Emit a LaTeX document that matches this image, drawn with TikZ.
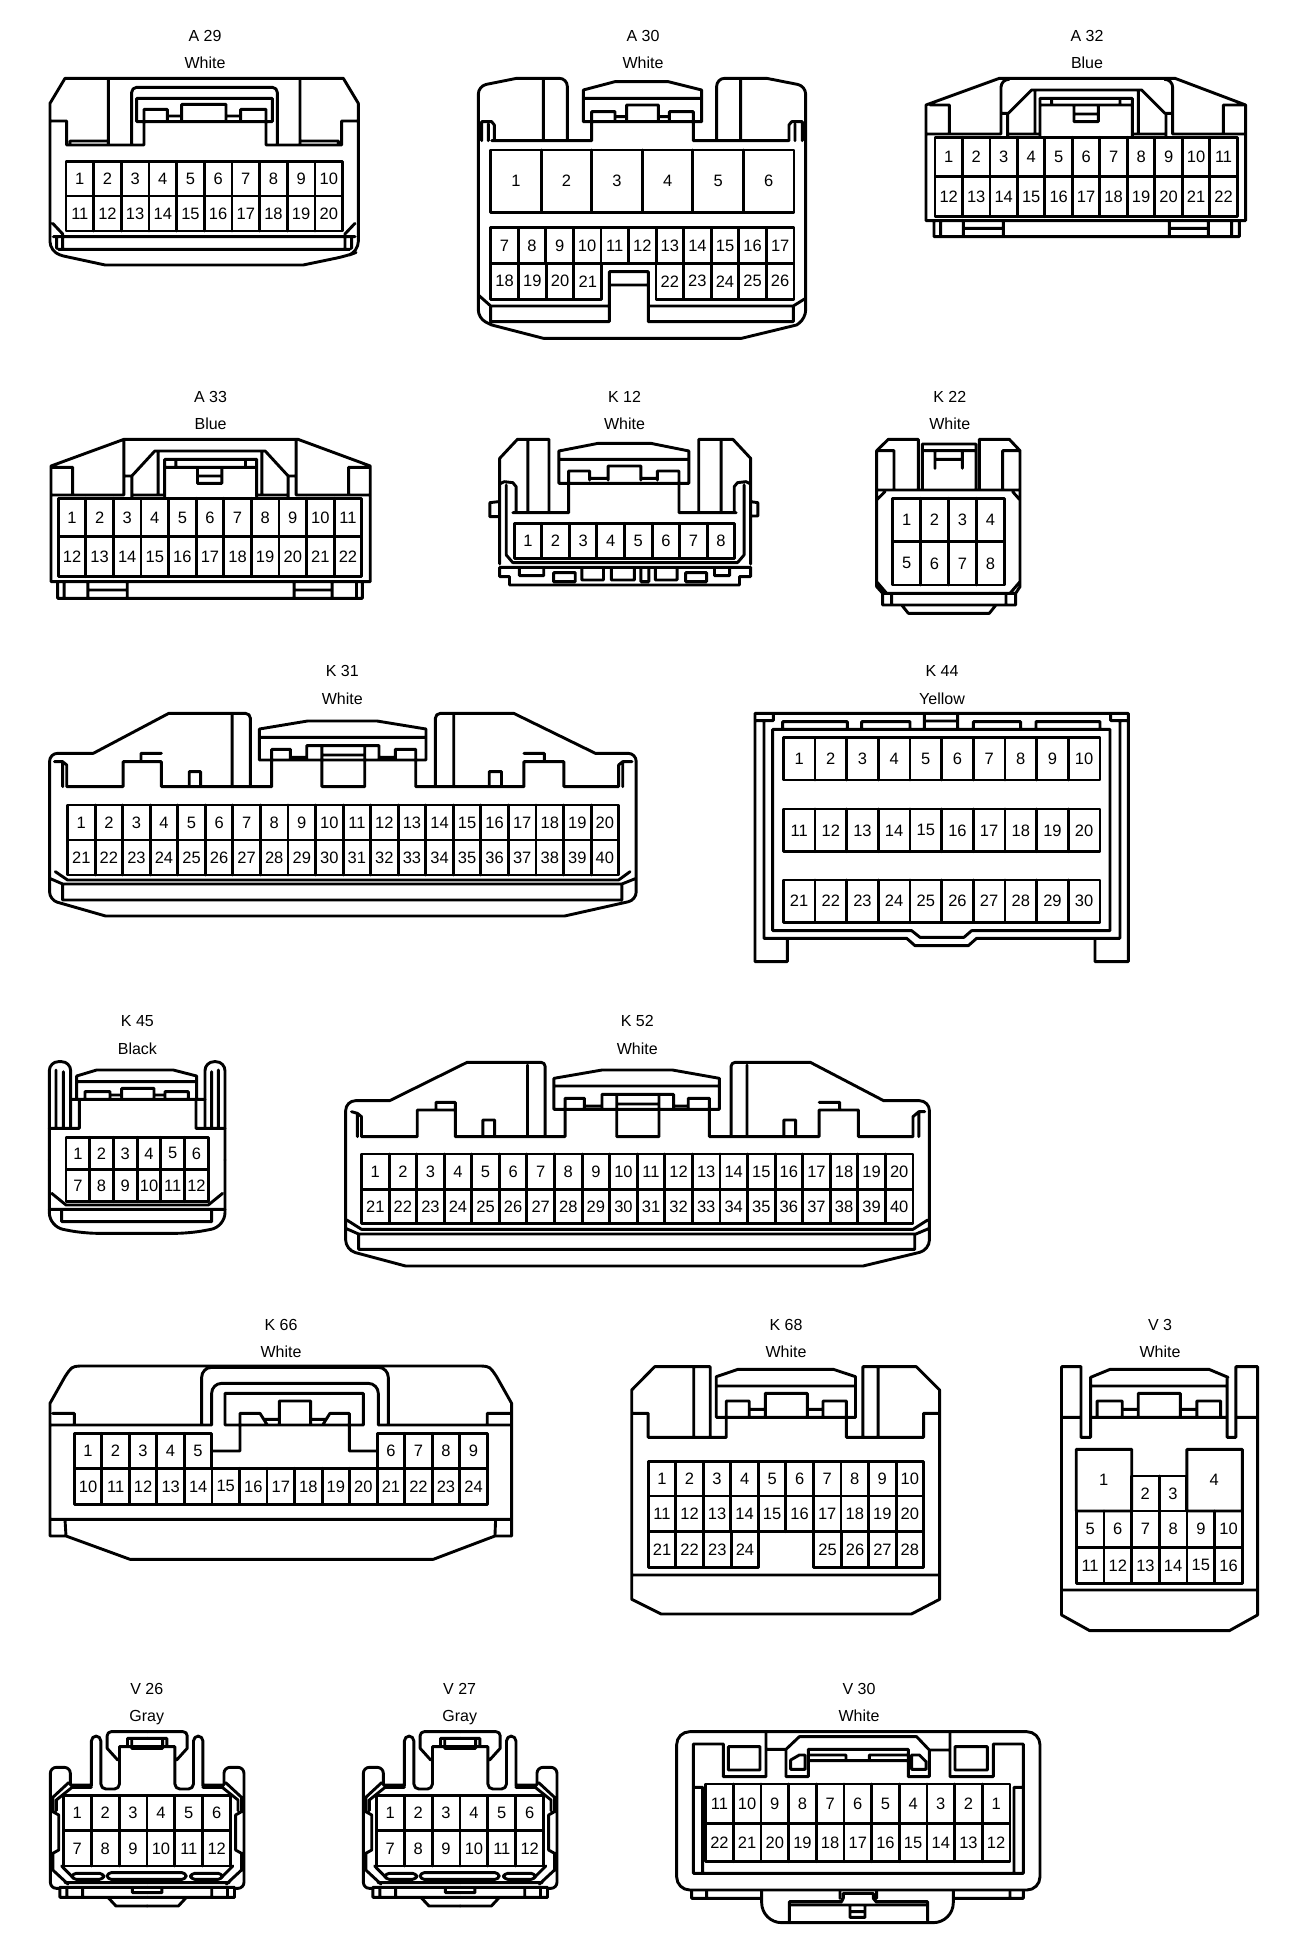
\documentclass[tikz,border=0pt]{standalone}
\usepackage{fontspec}
\setmainfont{Liberation Sans}
\tikzset{
  ln/.style={line width=2.9pt,line join=round,line cap=round,black},
  pinlbl/.style={inner sep=0pt,font=\fontsize{16.5}{18}\selectfont,black},
  ttl/.style={inner sep=0pt,text height=11.5pt,text depth=0pt,font=\fontsize{16}{18}\selectfont,black},
  zm/.style n args={4}{shift={(#1,#2)},x=#3pt,y=-#4pt},
  rc/.style={rounded corners=#1pt}
}
% \pinrow[step]{x0}{x1}{y0}{y1}{first}{count}
\newcommand{\pinrow}[7][1]{%
  \draw[ln] (#2,#4) rectangle (#3,#5);
  \foreach \k in {1,...,#7}{%
    \pgfmathsetmacro{\xc}{#2+(\k-1)/#7*(#3-#2)}%
    \pgfmathsetmacro{\xd}{#2+(\k-0.5)/#7*(#3-#2)}%
    \pgfmathsetmacro{\yd}{(#4+#5)/2}%
    \pgfmathtruncatemacro{\num}{#6+#1*(\k-1)}%
    \ifnum\k>1 \draw[ln] (\xc,#4) -- (\xc,#5);\fi
    \node[pinlbl] (\pre-\num) at (\xd,\yd) {\num};
  }%
}
\newcommand{\ctitle}[6]{%
  \node[ttl] (t#1) at (#2,#4) {#3};
  \node[ttl] (c#1) at (#2,#6) {#5};
}
\newcommand{\vhalf}{%
  \draw[ln] (115,312) [rc=6] -- (115,262) -- (58,262) -- (58,625) [sharp corners] -- (85,625)
    (115,315) -- (175,315)
    (175,318) [rc=5] -- (175,168) -- (202,168) [sharp corners] -- (202,300) [rc=5] -- (202,327) -- (255,327) [sharp corners] -- (255,200) -- (334,200)
    (110,308) -- (65,352) -- (65,395) -- (82,405) -- (82,510) -- (65,520) -- (65,570) -- (108,612)
    (120,322) -- (175,322) (120,322) -- (75,360) -- (75,392)
    (90,558) -- (120,590)
    (334,155) [rc=4] -- (220,155) [sharp corners] -- (220,205) -- (250,240)
    (334,175) -- (278,175) -- (278,200)
    (290,178) -- (290,205) -- (334,205)
    (100,608) -- (334,608) (85,622) -- (334,622)
    (85,625) -- (85,652) -- (334,652) (105,625) -- (105,652) (150,625) -- (150,652)
    (292,625) -- (292,638) -- (334,638)
    (222,652) -- (245,678) -- (334,678);
  \draw[ln,rounded corners=4pt] (120,580) rectangle (210,598);
}
\newcommand{\vconn}[2]{%
  \begin{scope}[zm={#2}{1680}{0.3508}{0.3333}]
    \def\pre{#1}
    \vhalf
    \begin{scope}[shift={(668,0)},xscale=-1]\vhalf\end{scope}
    \draw[ln,rounded corners=4pt] (220,578) rectangle (445,598);
    \pinrow{95}{572}{347}{452}{1}{6}
    \pinrow{95}{572}{452}{558}{7}{6}
  \end{scope}
}
\begin{document}
\begin{tikzpicture}[x=1pt,y=-1pt]
\useasboundingbox (0,0) rectangle (1312,1956);
\fill[white] (0,0) rectangle (1312,1956);

% titles
\ctitle{A29}{205}{A 29}{36}{White}{63}
\ctitle{A30}{643}{A 30}{36}{White}{63}
\ctitle{A32}{1087}{A 32}{36}{Blue}{63}
\ctitle{A33}{210.6}{A 33}{397}{Blue}{424}
\ctitle{K12}{624.5}{K 12}{397}{White}{424}
\ctitle{K22}{949.7}{K 22}{397}{White}{424}
\ctitle{K31}{342.3}{K 31}{671}{White}{699}
\ctitle{K44}{942}{K 44}{671}{Yellow}{699}
\ctitle{K45}{137.4}{K 45}{1021}{Black}{1049}
\ctitle{K52}{637.2}{K 52}{1021}{White}{1049}
\ctitle{K66}{281}{K 66}{1325}{White}{1352}
\ctitle{K68}{786}{K 68}{1325}{White}{1352}
\ctitle{V3}{1160}{V 3}{1325}{White}{1352}
\ctitle{V26}{146.8}{V 26}{1689}{Gray}{1716}
\ctitle{V27}{459.7}{V 27}{1689}{Gray}{1716}
\ctitle{V30}{859}{V 30}{1689}{White}{1716}

% A29
\begin{scope}[zm={30}{10}{0.3333}{0.3333}]
\def\pre{A29}
\draw[ln] (105,205) -- (940,205) -- (985,280) [rc=10] -- (985,725) -- (950,738) [sharp corners] -- (820,765) -- (225,765) -- (100,738) [rc=10] -- (60,725) [sharp corners] -- (60,280) -- cycle
 (60,333) -- (110,333) -- (110,405) -- (342,405) -- (342,298) -- (412,298) -- (412,335)
 (235,210) -- (235,405) (810,210) -- (810,405)
 (305,405) [rc=5] -- (305,232) -- (742,232) [sharp corners] -- (742,405)
 (320,265) -- (727,265) -- (727,335) -- (320,335) -- cycle
 (455,335) -- (455,283) -- (588,283) -- (588,335)
 (632,335) -- (632,298) -- (708,298) -- (708,405) -- (935,405) -- (935,333) -- (985,333)
 (412,318) -- (455,318) (588,318) -- (632,318)
 (120,405) -- (120,393) -- (235,393) (810,393) -- (925,393) -- (925,405)
 (68,640) -- (98,672) -- (98,715) (80,680) -- (80,715)
 (975,640) -- (945,672) -- (945,715) (965,680) -- (965,715)
 (70,680) -- (975,680) (85,718) -- (960,718);
\pinrow{108}{938}{455}{558}{1}{10}
\pinrow{108}{938}{558}{663}{11}{10}
\end{scope}

% A30
\begin{scope}[zm={460}{10}{0.3333}{0.3333}]
\def\pre{A30}
\draw[ln] (322,392) [rc=8] -- (322,205) [sharp corners] -- (170,205) [rc=8] -- (55,228) -- (55,925) [sharp corners] -- (95,945) -- (250,985) -- (845,985) -- (1010,945) [rc=8] -- (1037,925) -- (1037,228) [sharp corners] -- (920,205) [rc=8] -- (770,205) [sharp corners] -- (770,392)
 (250,210) -- (250,392) (842,210) -- (842,392)
 (95,392) -- (395,392) -- (395,335) (700,335) -- (700,392) -- (985,392)
 (65,392) -- (65,335) -- (95,335) -- (103,345) -- (103,392) (85,342) -- (85,392)
 (1027,392) -- (1027,335) -- (995,335) -- (987,345) -- (987,392) (1005,342) -- (1005,392)
 (370,335) -- (370,240) -- (465,215) -- (625,215) -- (725,240) -- (725,335) -- cycle
 (372,265) -- (722,265)
 (395,335) -- (395,305) -- (465,305) -- (465,335)
 (500,335) -- (500,285) -- (595,285) -- (595,335)
 (628,335) -- (628,305) -- (700,305) -- (700,335)
 (465,320) -- (500,320) (595,320) -- (628,320)
 (448,935) -- (448,785) -- (565,785) -- (565,935) (448,825) -- (565,825)
 (92,935) -- (448,935) (565,935) -- (1000,935)
 (92,888) -- (425,888) (588,888) -- (1000,888) (425,888) -- (448,888)  (565,888) -- (588,888)
 (92,888) -- (92,935) (1000,888) -- (1000,935)
 (55,855) -- (92,888) (1037,865) -- (1000,888);
\pinrow{92}{1002}{420}{607}{1}{6}
\pinrow{92}{1002}{653}{760}{7}{11}
\pinrow{92}{425}{760}{868}{18}{4}
\pinrow{588}{1002}{760}{868}{22}{5}
\end{scope}

% A32
\begin{scope}[zm={900}{10}{0.3333}{0.3333}]
\def\pre{A32}
\draw[ln] (78,285) -- (298,205) -- (825,205) -- (1037,285) -- (1037,632) -- (78,632) -- cycle
 (102,632) -- (102,680) -- (1018,680) -- (1018,632) (122,632) -- (122,680) (995,632) -- (995,680)
 (190,632) -- (190,680) (310,632) -- (310,680) (190,655) -- (310,655)
 (808,632) -- (808,680) (925,632) -- (925,680) (808,655) -- (925,655)
 (78,372) -- (303,372) [rc=8] -- (303,208) [sharp corners] -- (310,208)
 (812,208) [rc=8] -- (818,208) [sharp corners] -- (818,372) -- (1037,372)
 (303,310) -- (325,310) -- (395,240) -- (725,240) -- (795,310) -- (818,310)
 (323,310) -- (323,382) (798,310) -- (798,382)
 (405,240) -- (405,372) (715,240) -- (715,372)
 (420,378) -- (420,265) -- (697,265) -- (697,378) (420,285) -- (697,285)
 (455,265) -- (455,285) (660,265) -- (660,285)
 (522,285) -- (522,335) -- (595,335) -- (595,285) (522,312) -- (595,312)
 (90,285) -- (148,285) -- (148,372) (970,372) -- (970,285) -- (1030,285)
 (325,372) -- (420,372) (697,372) -- (798,372);
\pinrow{105}{1012}{382}{500}{1}{11}
\pinrow{105}{1012}{500}{620}{12}{11}
\end{scope}

% A33
\begin{scope}[zm={30}{380}{0.6569}{0.3333}]
\def\pre{A33}
\draw[ln] (32,258) -- (143,178) -- (408,178) -- (518,258) -- (518,605) -- (32,605) -- cycle
 (42,605) -- (42,655) -- (506,655) -- (506,605)
 (88,605) -- (88,655) (148,605) -- (148,655) (88,630) -- (148,630)
 (402,605) -- (402,655) (460,605) -- (460,655) (402,630) -- (460,630)
 (52,605) -- (52,655) (497,605) -- (497,655)
 (32,345) -- (143,345) -- (143,180) (405,180) -- (405,345) -- (518,345)
 (143,288) -- (155,288) -- (190,213) -- (358,213) -- (393,288) -- (405,288)
 (155,288) -- (155,355) (393,288) -- (393,355)
 (195,213) -- (195,345) (353,213) -- (353,345)
 (205,350) -- (205,238) -- (345,238) -- (345,350) (205,262) -- (345,262)
 (222,238) -- (222,262) (328,238) -- (328,262)
 (255,262) -- (255,310) -- (292,310) -- (292,262) (255,288) -- (292,288)
 (32,262) -- (65,262) -- (65,345) (485,345) -- (485,262) -- (518,262)
 (155,345) -- (205,345) (345,345) -- (393,345);
\pinrow{43}{505}{355}{470}{1}{11}
\pinrow{43}{505}{470}{590}{12}{11}
\end{scope}

% K12
\begin{scope}[zm={30}{380}{0.6569}{0.3333}]
\def\pre{K12}
\draw[ln] (715,305) -- (715,235) -- (742,178) -- (790,178) -- (790,398) (758,180) -- (758,398)
 (805,310) -- (805,213) -- (865,190) -- (945,190) -- (1003,213) -- (1003,310) -- cycle
 (805,238) -- (1003,238)
 (820,310) -- (820,273) -- (852,273) -- (852,300)
 (880,300) -- (880,258) -- (930,258) -- (930,300)
 (955,300) -- (955,273) -- (988,273) -- (988,310)
 (852,295) -- (880,295) (930,295) -- (955,295)
 (820,310) -- (820,398) -- (735,398) (988,310) -- (988,398) -- (1075,398)
 (1018,398) -- (1018,178) -- (1070,178) -- (1097,235) -- (1097,305) (1052,180) -- (1052,398)
 (715,305) -- (715,552) (1097,305) -- (1097,552)
 (715,312) -- (722,305) -- (735,308) -- (740,320) -- (740,398)
 (1097,312) -- (1090,305) -- (1077,308) -- (1072,320) -- (1072,398)
 (725,315) -- (725,525) -- (735,548) (1087,315) -- (1087,525) -- (1077,548)
 (713,365) -- (700,368) -- (700,410) -- (715,410)
 (1097,365) -- (1108,368) -- (1108,408) -- (1097,408)
 (735,548) -- (1077,548)
 (715,562) -- (1097,562) -- (1097,590) -- (1080,590) -- (1080,615) -- (730,615) -- (730,590) -- (715,590) -- cycle
 (745,565) -- (745,587) -- (782,587) -- (782,565)
 (797,578) rectangle (830,605)
 (840,565) -- (840,600) -- (873,600) -- (873,565)
 (885,565) -- (885,600) -- (920,600) -- (920,565)
 (930,565) -- (930,605) -- (942,605) -- (942,565)
 (952,565) -- (952,600) -- (985,600) -- (985,565)
 (998,578) rectangle (1030,605)
 (1042,565) -- (1042,587) -- (1065,587) -- (1065,565);
\pinrow{737}{1073}{430}{535}{1}{8}
\end{scope}

% K22
\begin{scope}[zm={870}{430}{0.3333}{0.3333}]
\def\pre{K22}
\draw[ln] (145,180) -- (145,28) -- (55,28) -- (20,62) -- (20,470) -- (38,490) -- (38,525) -- (95,525) -- (115,550) -- (358,550) -- (378,525) -- (437,525) -- (437,490) -- (450,470) -- (450,62) -- (418,28) -- (328,28) -- (328,180)
 (20,62) -- (72,62) -- (72,180) (398,180) -- (398,62) -- (450,62)
 (157,180) -- (157,42) -- (318,42) -- (318,180) (157,62) -- (318,62)
 (195,62) -- (195,115) (277,62) -- (277,115) (195,88) -- (277,88)
 (20,180) -- (450,180)
 (20,210) -- (45,185) (428,185) -- (450,210)
 (20,455) -- (50,490) -- (420,490) -- (450,455)
 (38,490) -- (437,490) (65,492) -- (65,522) (408,492) -- (408,522) (95,525) -- (378,525);
\pinrow{68}{403}{205}{335}{1}{4}
\pinrow{68}{403}{335}{465}{5}{4}
\end{scope}

% K31
\begin{scope}[zm={30}{660}{0.4082}{0.3333}]
\def\pre{K31}
\draw[ln] (540,380) [rc=5] -- (540,160) [sharp corners] -- (340,160) -- (155,280) [rc=8] -- (48,280) -- (48,720) [sharp corners] -- (185,768) -- (1310,768) [rc=8] -- (1485,720) -- (1485,280) [sharp corners] -- (1385,280) -- (1185,160) [rc=5] -- (993,160) [sharp corners] -- (993,380)
 (495,165) -- (495,380) (1038,165) -- (1038,380)
 (60,305) -- (80,305) -- (90,315) -- (90,380) -- (228,380) -- (228,305) -- (322,305) -- (322,380) -- (592,380) -- (592,268) -- (638,268) -- (638,300)
 (80,305) -- (80,380)
 (272,305) -- (272,280) -- (322,280) (390,380) -- (390,335) -- (418,335) -- (418,380)
 (562,300) -- (562,207) -- (680,183) -- (850,183) -- (970,207) -- (970,300) -- cycle
 (562,232) -- (970,232)
 (678,300) -- (678,257) -- (855,257) -- (855,300)
 (638,292) -- (678,292) (855,292) -- (895,292)
 (895,300) -- (895,268) -- (945,268) -- (945,380) -- (1210,380) -- (1210,305) -- (1308,305) -- (1308,380) -- (1442,380) -- (1442,315) -- (1452,305) -- (1475,305)
 (1452,305) -- (1452,380)
 (715,258) -- (715,380) -- (820,380) -- (820,258) (715,285) -- (820,285)
 (1210,280) -- (1260,280) -- (1260,305) (1125,380) -- (1125,335) -- (1155,335) -- (1155,380)
 (62,635) -- (92,660) -- (1442,660) -- (1470,635)
 (48,655) -- (80,672) -- (1450,672) -- (1485,655)
 (80,672) -- (80,720) -- (1450,720) -- (1450,672);
\pinrow{92}{1442}{435}{540}{1}{20}
\pinrow{92}{1442}{540}{645}{21}{20}
\end{scope}

% K44
\begin{scope}[zm={740}{660}{0.3333}{0.3333}]
\def\pre{K44}
\draw[ln] (45,160) -- (1165,160) -- (1165,905) -- (1065,905) -- (1065,835) -- (710,835) -- (685,857) -- (525,857) -- (500,835) -- (142,835) -- (142,905) -- (45,905) -- cycle
 (72,185) -- (72,835) -- (142,835) (1140,185) -- (1140,835) -- (1065,835)
 (45,182) -- (100,182) -- (100,165) (1112,165) -- (1112,182) -- (1165,182)
 (98,208) -- (1110,208) -- (1110,812) -- (695,812) -- (672,832) -- (540,832) -- (515,812) -- (98,812) -- cycle
 (128,205) -- (128,185) -- (322,185) -- (322,205)
 (365,205) -- (365,185) -- (510,185) -- (510,205)
 (553,205) -- (553,165) (653,165) -- (653,205) (553,183) -- (653,183)
 (700,205) -- (700,185) -- (842,185) -- (842,205)
 (888,205) -- (888,185) -- (1080,185) -- (1080,205);
\pinrow{130}{1080}{233}{360}{1}{10}
\pinrow{130}{1080}{447}{575}{11}{10}
\pinrow{130}{1080}{660}{787}{21}{10}
\end{scope}

% K45
\begin{scope}[zm={40}{1060}{0.3333}{0.3333}]
\def\pre{K45}
\draw[ln] (92,205) [rc=9] -- (92,5) -- (28,5) -- (28,300);
\draw[ln] (28,300) [rc=14] -- (28,500) -- (130,520) -- (450,520) -- (555,500) -- (555,300);
\draw[ln] (555,300) [rc=9] -- (555,5) -- (495,5) -- (495,205);
\draw[ln] (48,30) -- (48,205) (70,35) -- (70,205) (515,35) -- (515,205) (535,30) -- (535,205)
 (28,205) -- (118,205) -- (118,118) (468,118) -- (468,205) -- (555,205)
 (92,118) -- (495,118)
 (110,118) -- (110,48) -- (170,30) -- (400,30) -- (470,48) -- (470,118)
 (112,65) -- (468,65)
 (135,115) -- (135,95) -- (210,95) -- (210,112)
 (245,112) -- (245,85) -- (342,85) -- (342,112)
 (375,112) -- (375,95) -- (445,95) -- (445,115)
 (210,105) -- (245,105) (342,105) -- (375,105)
 (35,400) -- (78,435) -- (505,435) -- (548,400)
 (28,448) -- (555,448)
 (65,450) -- (65,485) -- (515,485) -- (515,450);
\pinrow{78}{505}{232}{328}{1}{6}
\pinrow{78}{505}{328}{425}{7}{6}
\end{scope}

% K52
\begin{scope}[zm={30}{1010}{0.5867}{0.3333}]
\def\pre{K52}
\draw[ln] (878,380) [rc=4] -- (878,157) [sharp corners] -- (745,157) -- (613,272) [rc=10] -- (538,272) -- (538,720) [sharp corners] -- (640,768) -- (1420,768) [rc=10] -- (1533,720) -- (1533,272) [sharp corners] -- (1455,272) -- (1330,157) [rc=4] -- (1195,157) [sharp corners] -- (1195,380)
 (848,165) -- (848,380) (1222,165) -- (1222,380)
 (548,305) -- (558,310) -- (565,320) -- (565,380) -- (660,380) -- (660,300) -- (725,300) -- (725,380) -- (912,380) -- (912,265) -- (945,265) -- (945,295)
 (558,310) -- (558,380)
 (692,300) -- (692,277) -- (725,277) -- (725,300) (772,380) -- (772,330) -- (792,330) -- (792,380)
 (893,298) -- (893,205) -- (975,180) -- (1095,180) -- (1175,205) -- (1175,298) -- cycle
 (893,228) -- (1175,228)
 (975,298) -- (975,253) -- (1097,253) -- (1097,298)
 (945,288) -- (975,288) (1097,288) -- (1122,288)
 (1122,298) -- (1122,265) -- (1158,265) -- (1158,380) -- (1345,380) -- (1345,300) -- (1412,300) -- (1412,380) -- (1505,380) -- (1505,320) -- (1515,305) -- (1525,305)
 (1515,305) -- (1515,380)
 (1000,255) -- (1000,380) -- (1072,380) -- (1072,255) (1000,282) -- (1072,282)
 (1345,277) -- (1380,277) -- (1380,300) (1285,380) -- (1285,330) -- (1305,330) -- (1305,380)
 (540,630) -- (565,658) -- (1505,658) -- (1530,630)
 (538,655) -- (560,672) -- (1510,672) -- (1533,655)
 (560,672) -- (560,718) -- (1508,718) -- (1508,672);
\pinrow{565}{1505}{432}{538}{1}{20}
\pinrow{565}{1505}{538}{640}{21}{20}
\end{scope}

% K66
\begin{scope}[zm={30}{1320}{0.3333}{0.3333}]
\def\pre{K66}
\draw[ln] (60,250) -- (105,170) .. controls (125,140) .. (150,138) -- (1355,138) .. controls (1380,140) .. (1400,170) -- (1445,250) -- (1445,648) -- (1395,648) -- (1210,718) -- (300,718) -- (108,648) -- (60,648) -- cycle
 (60,315) -- (545,315) [rc=10] -- (545,190) -- (1045,190) [sharp corners] -- (1045,315) -- (1445,315)
 (515,315) [rc=10] -- (515,142) -- (1075,142) [sharp corners] -- (1075,315)
 (585,315) -- (585,220) -- (1000,220) -- (1000,315) -- cycle
 (550,393) -- (630,393) -- (630,280) -- (690,280) -- (712,315)
 (704,298) -- (748,298) (748,315) -- (748,243) -- (842,243) -- (842,315) (842,298) -- (888,298)
 (878,315) -- (900,280) -- (958,280) -- (958,393) -- (1040,393)
 (60,598) -- (1445,598) (105,598) -- (108,648) (1397,598) -- (1395,648)
 (68,280) -- (133,280) -- (133,315) (1372,315) -- (1372,280) -- (1445,280);
\pinrow{133}{545}{340}{445}{1}{5}
\pinrow{1042}{1372}{340}{445}{6}{4}
\pinrow{133}{1372}{445}{553}{10}{15}
\end{scope}

% K68
\begin{scope}[zm={620}{1320}{0.4337}{0.3333}]
\def\pre{K68}
\draw[ln] (208,352) -- (208,140) -- (80,140) -- (27,210) -- (27,838) -- (95,882) -- (672,882) -- (737,838) -- (737,210) -- (683,140) -- (560,140) -- (560,352)
 (170,145) -- (170,352) (595,145) -- (595,352)
 (27,280) -- (65,280) -- (65,352) -- (245,352) -- (245,292)
 (522,292) -- (522,352) -- (700,352) -- (700,280) -- (737,280)
 (222,292) -- (222,170) -- (272,148) -- (492,148) -- (543,170) -- (543,292) -- cycle
 (222,198) -- (543,198)
 (245,292) -- (245,243) -- (298,243) -- (298,287)
 (335,287) -- (335,220) -- (432,220) -- (432,287)
 (468,287) -- (468,243) -- (522,243) -- (522,292)
 (298,268) -- (335,268) (432,268) -- (468,268)
 (27,765) -- (737,765);
\pinrow{65}{700}{425}{528}{1}{10}
\pinrow{65}{700}{528}{635}{11}{10}
\pinrow{65}{320}{635}{742}{21}{4}
\pinrow{447}{700}{635}{742}{25}{4}
\end{scope}

% V3
\begin{scope}[zm={620}{1320}{0.4337}{0.3333}]
\def\pre{V3}
\draw[ln] (1063,352) -- (1063,140) -- (1018,140) -- (1018,885) -- (1083,932) -- (1405,932) -- (1470,885) -- (1470,140) -- (1420,140) -- (1420,352) -- (1400,352) -- (1400,175)
 (1063,352) -- (1085,352) -- (1085,172) -- (1130,148) -- (1358,148) -- (1402,172)
 (1085,198) -- (1400,198)
 (1018,292) -- (1063,292) (1085,292) -- (1400,292) (1420,292) -- (1470,292)
 (1100,292) -- (1100,243) -- (1158,243) -- (1158,287)
 (1195,287) -- (1195,220) -- (1292,220) -- (1292,287)
 (1330,287) -- (1330,243) -- (1385,243) -- (1385,292)
 (1158,268) -- (1195,268) (1292,268) -- (1330,268)
 (1018,810) -- (1470,810)
 (1052,388) rectangle (1180,573) (1307,388) rectangle (1435,573);
\node[pinlbl] (V3-1) at (1115,480) {1};
\node[pinlbl] (V3-4) at (1370,478) {4};
\draw[ln] (1180,468) rectangle (1307,573) (1243,468) -- (1243,573);
\node[pinlbl] (V3-2) at (1211,520) {2};
\node[pinlbl] (V3-3) at (1275,520) {3};
\pinrow{1052}{1435}{573}{682}{5}{6}
\pinrow{1052}{1435}{682}{790}{11}{6}
\end{scope}

% V26, V27
\vconn{V26}{30}
\vconn{V27}{343}

% V30
\begin{scope}[zm={660}{1680}{0.3333}{0.3333}]
\def\pre{V30}
\draw[ln,rounded corners=13pt] (50,155) rectangle (1140,630);
\draw[ln] (100,580) -- (100,192) -- (190,192) -- (190,290) -- (318,290) -- (318,158)
 (318,208) -- (378,208) (378,290) -- (378,208) -- (418,170) -- (770,170) -- (808,210) -- (808,290)
 (808,210) -- (870,210) (870,158) -- (870,290) -- (1000,290) -- (1000,192) -- (1090,192) -- (1090,580) -- (100,580)
 (378,290) -- (445,290) -- (445,208) -- (745,208) -- (745,290) -- (808,290)
 (205,200) rectangle (300,270) (885,200) rectangle (982,270)
 (392,268) -- (392,240) -- (418,225) -- (435,225) -- (435,268) -- cycle
 (755,225) -- (778,225) -- (798,245) -- (798,268) -- (755,268) -- cycle
 (445,225) -- (558,225) -- (558,242) -- (628,242) -- (628,225) -- (745,225)
 (445,242) -- (745,242)
 (100,322) -- (128,322) -- (128,578) (1090,322) -- (1062,322) -- (1062,578)
 (95,632) -- (95,655) -- (305,655) (140,632) -- (140,655)
 (1090,632) -- (1090,655) -- (880,655) (1050,632) -- (1050,655)
 (305,632) [rc=20] -- (305,728) -- (880,728) [sharp corners] -- (880,632)
 (388,722) -- (388,665) -- (545,665) -- (550,655) -- (550,640) -- (640,640) -- (640,655) -- (648,665) -- (803,665) -- (803,722)
 (540,632) -- (540,655) (650,632) -- (650,655)
 (388,675) -- (803,675)
 (570,678) -- (570,712) -- (615,712) -- (615,678) (570,695) -- (615,695);
\pinrow[-1]{137}{1050}{312}{430}{11}{11}
\pinrow[-1]{137}{1050}{430}{545}{22}{11}
\end{scope}
\end{tikzpicture}
\end{document}
